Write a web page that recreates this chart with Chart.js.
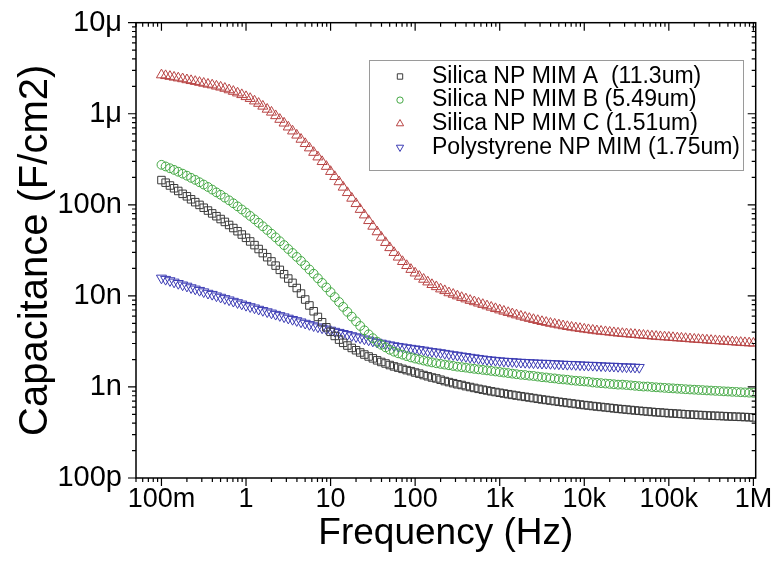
<!DOCTYPE html>
<html>
<head>
<meta charset="utf-8">
<script src="https://cdn.jsdelivr.net/npm/chart.js@4/dist/chart.umd.min.js"></script>
<style>
  html, body { margin: 0; padding: 0; background: #fff; }
  canvas { display: block; }
</style>
</head>
<body>
<canvas id="cv" width="772" height="566" style="width:772px;height:566px"></canvas>
<script>
// Frequency sweep (Hz), 20 points per decade
const freqHz = [
  0.1,0.112,0.126,0.141,0.158,0.178,0.2,0.224,0.251,0.282,0.316,0.355,0.398,0.447,0.501,0.562,0.631,0.708,0.794,0.891,
  1,1.12,1.26,1.41,1.58,1.78,2,2.24,2.51,2.82,3.16,3.55,3.98,4.47,5.01,5.62,6.31,7.08,7.94,8.91,
  10,11.2,12.6,14.1,15.8,17.8,20,22.4,25.1,28.2,31.6,35.5,39.8,44.7,50.1,56.2,63.1,70.8,79.4,89.1,
  100,112,126,141,158,178,200,224,251,282,316,355,398,447,501,562,631,708,794,891,
  1000,1120,1260,1410,1580,1780,2000,2240,2510,2820,3160,3550,3980,4470,5010,5620,6310,7080,7940,8910,
  10000,11200,12600,14100,15800,17800,20000,22400,25100,28200,31600,35500,39800,44700,50100,56200,63100,70800,79400,89100,
  100000,112000,126000,141000,158000,178000,200000,224000,251000,282000,316000,355000,398000,447000,501000,562000,631000,708000,794000,891000,
  1000000
];

// Capacitance in nF/cm2
const capSilicaA = [
  187,175,163,152,142,132,124,115,107,99.8,92.9,86.5,80.5,75.0,69.8,64.9,60.1,55.6,51.3,47.2,
  43.4,39.6,36.1,32.7,29.5,26.6,23.9,21.5,19.3,17.3,15.5,13.9,12.2,10.6,9.12,7.85,6.78,5.87,5.13,4.52,
  4.03,3.63,3.31,3.05,2.85,2.68,2.53,2.39,2.27,2.16,2.06,1.96,1.88,1.81,1.74,1.68,1.63,1.58,1.53,1.49,
  1.44,1.40,1.35,1.31,1.27,1.24,1.20,1.16,1.13,1.10,1.07,1.05,1.02,0.998,0.975,0.953,0.933,0.914,0.895,0.879,
  0.863,0.847,0.832,0.818,0.804,0.791,0.778,0.766,0.754,0.741,0.729,0.719,0.708,0.698,0.687,0.678,0.668,0.659,0.650,0.641,
  0.632,0.625,0.617,0.610,0.603,0.596,0.589,0.582,0.575,0.570,0.564,0.558,0.552,0.547,0.542,0.537,0.532,0.527,0.524,0.519,
  0.515,0.512,0.508,0.505,0.501,0.498,0.495,0.492,0.490,0.486,0.484,0.482,0.480,0.478,0.475,0.473,0.471,0.469,0.467,0.465,
  0.462
];
const capSilicaB = [
  275,264,252,242,231,220,209,198,188,177,167,157,147,137,129,120,112,104,96.2,88.9,
  82.0,75.5,69.3,63.5,58.1,53.0,48.2,43.9,39.8,36.1,32.7,29.6,26.8,24.2,21.7,19.5,17.5,15.6,13.9,12.4,
  11.0,9.70,8.57,7.57,6.68,5.92,5.25,4.68,4.19,3.78,3.43,3.14,2.90,2.72,2.56,2.44,2.34,2.26,2.18,2.11,
  2.05,2.00,1.95,1.90,1.86,1.82,1.79,1.76,1.73,1.70,1.67,1.65,1.63,1.60,1.58,1.56,1.54,1.52,1.50,1.48,
  1.46,1.44,1.42,1.40,1.38,1.36,1.35,1.33,1.32,1.30,1.28,1.27,1.25,1.24,1.22,1.21,1.20,1.18,1.17,1.16,
  1.15,1.14,1.12,1.11,1.10,1.09,1.08,1.07,1.06,1.06,1.05,1.04,1.03,1.02,1.01,1.01,0.998,0.991,0.984,0.977,
  0.970,0.964,0.957,0.951,0.944,0.938,0.933,0.927,0.923,0.916,0.912,0.906,0.902,0.895,0.891,0.885,0.881,0.875,0.871,0.865,
  0.861
];
const capSilicaC = [
  2670,2620,2570,2520,2470,2420,2360,2310,2260,2210,2160,2110,2070,2010,1960,1900,1830,1760,1690,1620,
  1540,1470,1380,1300,1210,1120,1040,951,867,789,714,646,582,524,470,421,376,335,298,264,
  232,204,179,156,136,118,103,88.9,77.3,67.0,58.1,50.5,44.0,38.5,33.8,29.9,26.6,23.8,21.5,19.5,
  17.8,16.4,15.2,14.2,13.3,12.6,11.9,11.4,10.8,10.4,9.98,9.59,9.25,8.91,8.61,8.32,8.04,7.76,7.50,7.24,
  7.00,6.78,6.56,6.35,6.17,5.98,5.81,5.65,5.50,5.36,5.22,5.11,4.99,4.89,4.79,4.69,4.60,4.52,4.45,4.38,
  4.31,4.25,4.19,4.13,4.08,4.04,3.99,3.94,3.90,3.86,3.83,3.79,3.76,3.72,3.69,3.66,3.62,3.59,3.56,3.54,
  3.51,3.48,3.45,3.43,3.40,3.37,3.34,3.32,3.30,3.27,3.24,3.22,3.20,3.17,3.15,3.13,3.10,3.08,3.06,3.04,
  3.02
];
// Polystyrene sweep stops near 45 kHz
const capPolystyrene = [
  15.7,15.2,14.7,14.2,13.7,13.2,12.8,12.3,11.9,11.5,11.1,10.7,10.4,10.0,9.68,9.35,9.04,8.73,8.43,8.15,
  7.87,7.62,7.38,7.14,6.92,6.70,6.49,6.28,6.08,5.89,5.70,5.52,5.35,5.18,5.01,4.85,4.70,4.57,4.45,4.33,
  4.21,4.09,3.98,3.87,3.77,3.66,3.56,3.47,3.37,3.28,3.19,3.10,3.03,2.96,2.90,2.84,2.79,2.75,2.70,2.66,
  2.62,2.58,2.54,2.49,2.45,2.42,2.38,2.34,2.30,2.26,2.23,2.19,2.16,2.12,2.09,2.06,2.03,2.00,1.98,1.96,
  1.94,1.92,1.91,1.90,1.88,1.87,1.86,1.85,1.84,1.83,1.82,1.82,1.81,1.80,1.79,1.78,1.77,1.77,1.76,1.75,
  1.74,1.73,1.73,1.72,1.71,1.70,1.69,1.69,1.68,1.67,1.66,1.66,1.65,1.64
];

const seriesNames = [
  'Silica NP MIM A  (11.3um)',
  'Silica NP MIM B (5.49um)',
  'Silica NP MIM C (1.51um)',
  'Polystyrene NP MIM (1.75um)'
];

const xTickValues = [0.1, 1, 10, 100, 1000, 1e4, 1e5, 1e6];
const xTickLabels = ['100m', '1', '10', '100', '1k', '10k', '100k', '1M'];
const yTickValues = [0.1, 1, 10, 100, 1000, 1e4];
const yTickLabels = ['100p', '1n', '10n', '100n', '1\u03bc', '10\u03bc'];

const FONT = "'Liberation Sans', Arial, Helvetica, sans-serif";
Chart.defaults.font.family = FONT;
Chart.defaults.color = '#000';

// decade + 2..9 ticks inside [min, max]
function logTicks(min, max) {
  const out = [];
  const e0 = Math.floor(Math.log10(min)), e1 = Math.ceil(Math.log10(max));
  for (let e = e0; e <= e1; e++) {
    for (let m = 1; m <= 9; m++) {
      const v = m * Math.pow(10, e);
      if (v >= min * 0.9999 && v <= max * 1.0001) out.push({ value: v, major: m === 1 });
    }
  }
  return out;
}
function labelFor(v, values, labels) {
  const i = values.findIndex(t => Math.abs(Math.log10(t) - Math.log10(v)) < 1e-6);
  return i < 0 ? '' : labels[i];
}
const toPoints = arr => arr.map((c, i) => ({ x: freqHz[i], y: c }));

function makeSet(name, values, color, shape, radius, rotation) {
  return {
    label: name,
    data: toPoints(values),
    showLine: false,
    pointStyle: shape,
    pointRadius: radius,
    pointRotation: rotation,
    pointBorderColor: color,
    pointBackgroundColor: 'rgba(0,0,0,0)',
    pointBorderWidth: 1
  };
}

// Axis frame with log tick marks: outward on bottom/left, inward on top/right
const frameTicks = {
  id: 'frameTicks',
  afterDraw(chart) {
    const { ctx, chartArea: a } = chart;
    const x = chart.scales.x, y = chart.scales.y;
    ctx.save();
    ctx.strokeStyle = '#000';
    ctx.lineWidth = 1.2;
    ctx.beginPath();
    x.ticks.forEach(t => {
      const p = x.getPixelForValue(t.value);
      const len = t.major ? 8 : 4;
      ctx.moveTo(p, a.bottom); ctx.lineTo(p, a.bottom + len);
      ctx.moveTo(p, a.top); ctx.lineTo(p, a.top + len);
    });
    y.ticks.forEach(t => {
      const p = y.getPixelForValue(t.value);
      const len = t.major ? 8 : 4;
      ctx.moveTo(a.left - len, p); ctx.lineTo(a.left, p);
      ctx.moveTo(a.right - len, p); ctx.lineTo(a.right, p);
    });
    ctx.stroke();
    ctx.lineWidth = 1.5;
    ctx.strokeRect(a.left, a.top, a.right - a.left, a.bottom - a.top);
    ctx.restore();
  }
};

// Boxed legend inside the plot
const boxLegend = {
  id: 'boxLegend',
  afterDatasetsDraw(chart, args, o) {
    const { ctx } = chart;
    ctx.save();
    ctx.fillStyle = '#fff';
    ctx.fillRect(o.x, o.y, o.w, o.h);
    ctx.strokeStyle = '#9a9a9a';
    ctx.lineWidth = 1;
    ctx.strokeRect(o.x + 0.5, o.y + 0.5, o.w, o.h);
    ctx.font = o.fontSize + 'px ' + FONT;
    ctx.textBaseline = 'middle';
    chart.data.datasets.forEach((ds, i) => {
      const cy = o.y + o.firstRow + i * o.rowGap;
      ctx.strokeStyle = ds.pointBorderColor;
      ctx.fillStyle = 'rgba(0,0,0,0)';
      ctx.lineWidth = 1;
      Chart.helpers.drawPoint(ctx, {
        pointStyle: ds.pointStyle,
        radius: ds.pointRadius * 0.72,
        rotation: ds.pointRotation,
        borderWidth: 1
      }, o.markerX, cy);
      ctx.fillStyle = '#000';
      ctx.fillText(ds.label, o.textX, cy);
    });
    ctx.restore();
  }
};

new Chart(document.getElementById('cv'), {
  type: 'scatter',
  data: {
    datasets: [
      makeSet(seriesNames[0], capSilicaA, '#3a3a3a', 'rect', 5.3, 0),
      makeSet(seriesNames[1], capSilicaB, '#44a844', 'circle', 4.4, 0),
      makeSet(seriesNames[2], capSilicaC, '#b84444', 'triangle', 5.8, 0),
      makeSet(seriesNames[3], capPolystyrene, '#3c3cb4', 'triangle', 5.8, 180)
    ]
  },
  options: {
    responsive: false,
    devicePixelRatio: 1,
    animation: false,
    events: [],
    layout: { padding: { top: 22.7, right: 16.3, bottom: 0, left: 0 } },
    scales: {
      x: {
        type: 'logarithmic',
        position: 'bottom',
        min: 0.05,
        max: 1.065e6,
        afterBuildTicks: s => { s.ticks = logTicks(s.min, s.max); },
        afterFit: s => { s.height = 88; s.paddingLeft = 0; s.paddingRight = 0; },
        grid: { display: true, drawOnChartArea: false, drawTicks: true, tickLength: 8, tickColor: 'rgba(0,0,0,0)' },
        border: { display: false },
        ticks: {
          autoSkip: false, maxRotation: 0, minRotation: 0, padding: -3,
          font: { size: 27 }, color: '#000',
          callback: v => labelFor(v, xTickValues, xTickLabels)
        },
        title: {
          display: true, text: 'Frequency (Hz)', color: '#000',
          font: { size: 37 }, padding: { top: 0, bottom: 10 }
        }
      },
      y: {
        type: 'logarithmic',
        position: 'left',
        min: 0.1,
        max: 1e4,
        afterBuildTicks: s => { s.ticks = logTicks(s.min, s.max); },
        afterFit: s => { s.width = 136; s.paddingTop = 0; s.paddingBottom = 0; },
        grid: { display: true, drawOnChartArea: false, drawTicks: true, tickLength: 8, tickColor: 'rgba(0,0,0,0)' },
        border: { display: false },
        ticks: {
          autoSkip: false, padding: 6,
          font: { size: 29 }, color: '#000',
          callback: v => labelFor(v, yTickValues, yTickLabels)
        },
        title: {
          display: true, text: 'Capacitance (F/cm2)', color: '#000',
          font: { size: 40 }, padding: { top: 12, bottom: 0 }
        }
      }
    },
    plugins: {
      legend: { display: false },
      tooltip: { enabled: false },
      boxLegend: {
        x: 369, y: 60, w: 374, h: 110,
        firstRow: 16.5, rowGap: 23.6,
        markerX: 400, textX: 432, fontSize: 23
      }
    }
  },
  plugins: [boxLegend, frameTicks]
});
</script>
</body>
</html>
